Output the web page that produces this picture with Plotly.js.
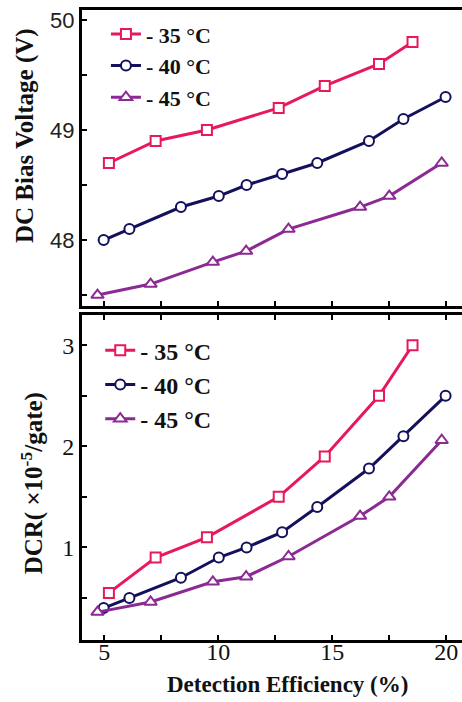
<!DOCTYPE html>
<html>
<head>
<meta charset="utf-8">
<script src="https://cdn.plot.ly/plotly-3.0.1.min.js"></script>
<style>html,body{margin:0;padding:0;background:#fff;}#chart{width:462px;height:702px;}</style>
</head>
<body>
<div id="chart"></div>
<script>
// Detection efficiency (%) for each temperature series
const de35 = [5.2, 7.25, 9.5, 12.65, 14.67, 17.05, 18.52];
const de40 = [4.97, 6.1, 8.36, 10.02, 11.24, 12.8, 14.34, 16.61, 18.12, 19.97];
const de45 = [4.7, 7.03, 9.76, 11.22, 13.08, 16.22, 17.5, 19.8];

// DC bias voltage (V)
const bias35 = [48.7, 48.9, 49.0, 49.2, 49.4, 49.6, 49.8];
const bias40 = [48.0, 48.1, 48.3, 48.4, 48.5, 48.6, 48.7, 48.9, 49.1, 49.3];
const bias45 = [47.5, 47.6, 47.8, 47.9, 48.1, 48.3, 48.4, 48.7];

// Dark count rate (x10^-5 / gate)
const dcr35 = [0.55, 0.9, 1.1, 1.5, 1.9, 2.5, 3.0];
const dcr40 = [0.4, 0.5, 0.7, 0.9, 1.0, 1.15, 1.4, 1.78, 2.1, 2.5];
const dcr45 = [0.36, 0.46, 0.66, 0.71, 0.91, 1.31, 1.5, 2.06];

const names = ["- 35 °C", "- 40 °C", "- 45 °C"];
const xTickVals = [5, 7.5, 10, 12.5, 15, 17.5, 20];
const xTickText = ["5", "", "10", "", "15", "", "20"];
const biasTickVals = [47.5, 48, 48.5, 49, 49.5, 50];
const biasTickText = ["", "48", "", "49", "", "50"];
const dcrTickVals = [0.5, 1, 1.5, 2, 2.5, 3];
const dcrTickText = ["", "1", "", "2", "", "3"];

const colors = ["#E8195A", "#14115C", "#8C2A94"];
const symbols = ["square", "circle", "triangle-up"];

function tr(x, y, i, xa, ya, leg) {
  return {
    x: x, y: y, name: names[i], type: "scatter", mode: "lines+markers",
    xaxis: xa, yaxis: ya, legend: leg,
    line: {color: colors[i], width: 3},
    marker: {symbol: symbols[i], size: i === 2 ? 11 : 10,
             color: "#fff", line: {color: colors[i], width: 2}}
  };
}

const data = [
  tr(de35, bias35, 0, "x", "y", "legend"),
  tr(de40, bias40, 1, "x", "y", "legend"),
  tr(de45, bias45, 2, "x", "y", "legend"),
  tr(de35, dcr35, 0, "x2", "y2", "legend2"),
  tr(de40, dcr40, 1, "x2", "y2", "legend2"),
  tr(de45, dcr45, 2, "x2", "y2", "legend2")
];

const serif = "Liberation Serif, Times New Roman, serif";
const axBase = {
  showgrid: false, zeroline: false, showline: true, linecolor: "#000", linewidth: 3,
  ticks: "inside", ticklen: 5, tickwidth: 2, tickcolor: "#000"
};

const layout = {
  width: 462, height: 702,
  margin: {l: 82, r: 0, t: 10, b: 62},
  paper_bgcolor: "#fff", plot_bgcolor: "#fff",
  showlegend: true,
  xaxis: Object.assign({}, axBase, {
    domain: [0, 1], anchor: "y", range: [4.02, 20.69], mirror: true,
    tickvals: xTickVals, ticktext: xTickText, showticklabels: false
  }),
  yaxis: Object.assign({}, axBase, {
    domain: [0.530, 1], anchor: "x", range: [47.4, 50.09],
    tickvals: biasTickVals, ticktext: biasTickText,
    tickfont: {family: "Liberation Sans Narrow, Arial Narrow, Liberation Sans, sans-serif", size: 22, color: "#222"}
  }),
  xaxis2: Object.assign({}, axBase, {
    domain: [0, 1], anchor: "y2", range: [4.02, 20.69], mirror: "ticks",
    tickvals: xTickVals, ticktext: xTickText, ticklabelstandoff: -12,
    tickfont: {family: serif, size: 24, color: "#111"}
  }),
  yaxis2: Object.assign({}, axBase, {
    domain: [0, 0.516], anchor: "x2", range: [0.084, 3.3],
    tickvals: dcrTickVals, ticktext: dcrTickText,
    tickfont: {family: serif, size: 24, color: "#111"}
  }),
  legend: {
    x: 0.063, y: 0.995, xanchor: "left", yanchor: "top",
    bgcolor: "rgba(0,0,0,0)", borderwidth: 0,
    font: {family: serif, size: 22, color: "#111", weight: "bold"},
    itemclick: false
  },
  legend2: {
    x: 0.048, y: 0.495, xanchor: "left", yanchor: "top",
    bgcolor: "rgba(0,0,0,0)", borderwidth: 0,
    font: {family: serif, size: 24, color: "#111", weight: "bold"},
    itemclick: false
  },
  annotations: [
    {text: "<b>DC Bias Voltage (V)</b>", xref: "paper", yref: "paper",
     x: -0.15, y: 0.80, xanchor: "center", yanchor: "middle", textangle: -90,
     showarrow: false, font: {family: serif, size: 25, color: "#111"}},
    {text: "<b>DCR( ×10<sup>-5</sup>/gate)</b>", xref: "paper", yref: "paper",
     x: -0.13, y: 0.248, xanchor: "center", yanchor: "middle", textangle: -90,
     showarrow: false, font: {family: serif, size: 25, color: "#111"}},
    {text: "<b>Detection Efficiency (%)</b>", xref: "paper", yref: "paper",
     x: 0.54, y: -0.07, xanchor: "center", yanchor: "middle",
     showarrow: false, font: {family: serif, size: 23, color: "#111"}}
  ]
};

Plotly.newPlot("chart", data, layout, {displayModeBar: false, staticPlot: true});
</script>
</body>
</html>
